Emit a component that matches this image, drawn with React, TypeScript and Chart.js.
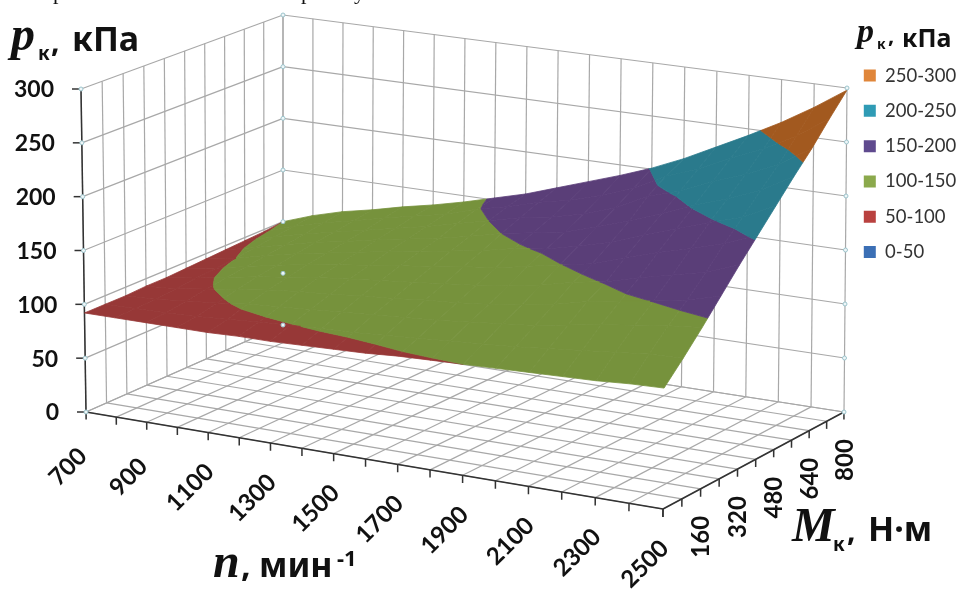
import React, { useEffect, useRef } from "react";
import { Chart, registerables } from "chart.js";

Chart.register(...registerables);

const rpmValues = [700, 800, 900, 1000, 1100, 1200, 1300, 1400, 1500, 1600, 1700, 1800, 1900, 2000, 2100, 2200, 2300, 2400, 2500];
const torqueValues = [0, 80, 160, 240, 320, 400, 480, 560, 640, 720, 800];
const pressureTicks = [0, 50, 100, 150, 200, 250, 300];
const rpmLabels = [700, 900, 1100, 1300, 1500, 1700, 1900, 2100, 2300, 2500];
const torqueLabels = [160, 320, 480, 640, 800];

// pressure (kPa) for each rpm, one value per torque in torqueValues
const pressureByRpm = [
  [92, 92, 92, 93, 93, 94, 95, 96, 97, 98, 100],
  [92, 92.5, 93, 95, 97, 98.5, 100, 102.5, 105, 107.5, 110],
  [92, 93, 96, 99, 102, 104.5, 107, 109.5, 112, 115, 118],
  [92, 94, 98.5, 103, 107, 110, 113, 116, 118, 121, 124],
  [92, 96, 102, 107, 111, 115, 118, 121, 124, 128, 131],
  [93, 98, 104, 110, 115, 119, 123, 127, 130, 134, 137],
  [93, 99.5, 106, 112, 118, 123, 128, 132, 136, 140, 144],
  [94, 101, 108, 115, 121, 127, 132, 137, 143, 149, 152],
  [95, 102, 110, 117, 124, 130, 137, 143, 150, 155.5, 160],
  [96, 104, 112, 120, 127, 135, 142, 150, 157, 164, 170],
  [98, 106, 114, 122, 130, 138, 148, 155, 162, 170, 180],
  [99, 108, 117, 125, 134, 144, 152, 160, 169, 179, 190],
  [100, 110, 120, 129, 139, 149.5, 159, 169, 179, 190, 201],
  [101, 112, 123, 134, 146, 155, 167, 179, 194, 205, 214],
  [102, 115, 128, 141, 151, 165, 178, 190, 203, 216, 229],
  [103, 118, 133, 146, 159, 174, 188, 202, 216, 230, 244],
  [104, 121, 137, 150.5, 166, 182, 198, 212, 227, 243, 260],
  [106, 124, 141, 156, 173, 191, 207, 224, 240, 259, 278],
  [107, 125, 144, 164, 184, 203, 222, 241, 259, 279, 298],
];

const bandLabels = ["250-300", "200-250", "150-200", "100-150", "50-100", "0-50"];
const bandLows = [250, 200, 150, 100, 50, 0];
const bandHighs = [300, 250, 200, 150, 100, 50];
const legendColors = ["#E0863A", "#2F9BB5", "#5F4A8E", "#8BA94C", "#B9413F", "#3B6FB5"];
const surfaceColors = ["#A2591F", "#2A7A8C", "#5A3E78", "#76923C", "#973837", "#2F5C97"];

// Camera: where the floor and the top of the plot box land on the canvas
const FLOOR = [[86, 412], [663, 509], [844, 412], [283, 325]];
const CEILING = [[81, 89], [666, 170], [847, 88], [283, 15]];

function homography(q: number[][]) {
  const [[x0, y0], [x1, y1], [x2, y2], [x3, y3]] = q;
  const dx1 = x1 - x2, dx2 = x3 - x2, dx3 = x0 - x1 + x2 - x3;
  const dy1 = y1 - y2, dy2 = y3 - y2, dy3 = y0 - y1 + y2 - y3;
  const den = dx1 * dy2 - dx2 * dy1;
  const g = (dx3 * dy2 - dx2 * dy3) / den;
  const h = (dx1 * dy3 - dx3 * dy1) / den;
  const a = x1 - x0 + g * x1, b = x3 - x0 + h * x3, d = y1 - y0 + g * y1, e = y3 - y0 + h * y3;
  return (u: number, v: number) => {
    const w = g * u + h * v + 1;
    return [(a * u + b * v + x0) / w, (d * u + e * v + y0) / w];
  };
}
const floorMap = homography(FLOOR);
const ceilMap = homography(CEILING);

function project(n: number, m: number, p: number) {
  const u = (n - 700) / 1800, v = m / 800, t = p / 300;
  const f = floorMap(u, v), c = ceilMap(u, v);
  return { x: f[0] + (c[0] - f[0]) * t, y: f[1] + (c[1] - f[1]) * t };
}

type V = { n: number; m: number; p: number };
function clip(poly: V[], level: number, keepAbove: boolean): V[] {
  const out: V[] = [];
  const inside = (q: V) => (keepAbove ? q.p >= level : q.p <= level);
  poly.forEach((a, i) => {
    const b = poly[(i + 1) % poly.length];
    if (inside(a)) out.push(a);
    if (inside(a) !== inside(b)) {
      const t = (level - a.p) / (b.p - a.p);
      out.push({ n: a.n + (b.n - a.n) * t, m: a.m + (b.m - a.m) * t, p: level });
    }
  });
  return out;
}

function line(points: { x: number; y: number }[], color: string, width: number) {
  return { label: "", data: points, showLine: true, borderColor: color, borderWidth: width, pointRadius: 0, fill: false };
}

function buildDatasets() {
  const top: any[] = [];
  // markers on the wall edges
  const markers: { x: number; y: number }[] = [];
  pressureTicks.forEach((p) => {
    markers.push(project(700, 0, p), project(700, 800, p), project(2500, 800, p));
  });
  top.push({ label: "", data: markers, showLine: false, pointRadius: 2, pointBackgroundColor: "#EEF6F8", pointBorderColor: "#9CC4CC", pointBorderWidth: 1 });

  // legend-only entries
  bandLabels.forEach((label, i) => {
    top.push({ label, data: [], backgroundColor: legendColors[i], borderColor: legendColors[i], borderWidth: 0, showLine: false, pointRadius: 0 });
  });

  // surface
  for (let i = 0; i < rpmValues.length - 1; i++) {
    for (let j = 0; j < torqueValues.length - 1; j++) {
      const cell: V[] = [
        { n: rpmValues[i], m: torqueValues[j], p: pressureByRpm[i][j] },
        { n: rpmValues[i + 1], m: torqueValues[j], p: pressureByRpm[i + 1][j] },
        { n: rpmValues[i + 1], m: torqueValues[j + 1], p: pressureByRpm[i + 1][j + 1] },
        { n: rpmValues[i], m: torqueValues[j + 1], p: pressureByRpm[i][j + 1] },
      ];
      bandLabels.forEach((_, b) => {
        let poly = clip(cell, bandLows[b], true);
        if (poly.length) poly = clip(poly, bandHighs[b], false);
        if (poly.length < 3) return;
        const pts = poly.map((q) => project(q.n, q.m, q.p));
        pts.push(pts[0]);
        top.push({
          label: "", data: pts, showLine: true, tension: 0, pointRadius: 0,
          borderColor: surfaceColors[b], backgroundColor: surfaceColors[b], borderWidth: 0.8, fill: "shape",
        });
      });
    }
  }

  // axes
  const axisColor = "#333333";
  const axes: any[] = [];
  axes.push(line([project(700, 0, 0), project(700, 0, 300)], axisColor, 1.5));
  axes.push(line([project(700, 0, 0), project(2500, 0, 0)], axisColor, 1.5));
  axes.push(line([project(2500, 0, 0), project(2500, 800, 0)], axisColor, 1.5));
  rpmValues.forEach((n) => axes.push(line([project(n, 0, 0), project(n, 0, -7)], axisColor, 1.5)));
  torqueValues.forEach((m) => axes.push(line([project(2500, m, 0), project(2500, m, -7)], axisColor, 1.5)));
  pressureTicks.forEach((p) => {
    const a = project(700, 0, p);
    axes.push(line([a, { x: a.x - 9, y: a.y }], axisColor, 1.5));
  });

  // grid
  const gridColor = "#A8A8A8";
  const grid: any[] = [];
  pressureTicks.forEach((p) => {
    grid.push(line([project(700, 0, p), project(700, 800, p)], gridColor, 1.2));
    grid.push(line([project(700, 800, p), project(2500, 800, p)], gridColor, 1.2));
  });
  torqueValues.forEach((m) => {
    grid.push(line([project(700, m, 0), project(700, m, 300)], gridColor, 1.2));
    grid.push(line([project(700, m, 0), project(2500, m, 0)], gridColor, 1.2));
  });
  rpmValues.forEach((n) => {
    grid.push(line([project(n, 800, 0), project(n, 800, 300)], gridColor, 1.2));
    grid.push(line([project(n, 0, 0), project(n, 800, 0)], gridColor, 1.2));
  });
  return [...top, ...axes, ...grid];
}

const SANS = '"Noto Sans", sans-serif';
const NUM = 'Lato, "Noto Sans", sans-serif';
const SERIF = '"Liberation Serif", serif';

function put(ctx: CanvasRenderingContext2D, text: string, x: number, y: number, font: string, color = "#111") {
  ctx.font = font;
  ctx.fillStyle = color;
  ctx.fillText(text, x, y);
}

const labelsPlugin = {
  id: "plotLabels",
  beforeDraw(chart: any) {
    chart.legend.left = 847;
    chart.legend.top = 49.5;
  },
  afterDraw(chart: any) {
    const ctx: CanvasRenderingContext2D = chart.ctx;
    const X = chart.scales.x, Y = chart.scales.y;
    ctx.save();
    ctx.textBaseline = "middle";
    ctx.textAlign = "right";
    pressureTicks.forEach((p) => {
      const a = project(700, 0, p);
      put(ctx, String(p), X.getPixelForValue(a.x - 27), Y.getPixelForValue(a.y + 1), `bold 23px ${NUM}`);
    });
    ctx.textAlign = "center";
    rpmLabels.forEach((n) => {
      const a = project(n, 0, 0);
      ctx.save();
      ctx.translate(X.getPixelForValue(a.x - 18), Y.getPixelForValue(a.y + 55));
      ctx.rotate(-Math.PI / 4);
      put(ctx, String(n), 0, 0, `bold 24px ${NUM}`);
      ctx.restore();
    });
    torqueLabels.forEach((m) => {
      const a = project(2500, m, 0);
      ctx.save();
      ctx.translate(X.getPixelForValue(a.x + 1), Y.getPixelForValue(a.y + 48));
      ctx.rotate(-Math.PI / 2);
      put(ctx, String(m), 0, 0, `bold 24px ${NUM}`);
      ctx.restore();
    });

    ctx.textAlign = "left";
    ctx.textBaseline = "alphabetic";
    // cropped line of page text above the figure
    put(ctx, "р", 53, -1, `22px ${SERIF}`);
    put(ctx, "р", 301, -1, `22px ${SERIF}`);
    put(ctx, "у", 354, -1, `22px ${SERIF}`);
    // p_k, kPa top-left
    put(ctx, "p", 11, 50, `italic bold 48px ${SERIF}`);
    put(ctx, "к", 38, 60, `bold 19px ${SANS}`);
    put(ctx, ",", 51, 52, `bold 30px ${SANS}`);
    put(ctx, "кПа", 72, 51, `bold 34px ${SANS}`);
    // legend title
    put(ctx, "p", 857, 42, `italic bold 34px ${SERIF}`);
    put(ctx, "к", 877, 49, `bold 14px ${SANS}`);
    put(ctx, ",", 888, 43, `bold 22px ${SANS}`);
    put(ctx, "кПа", 902, 47, `bold 25px ${SANS}`);
    // n, min-1
    put(ctx, "n", 213, 577, `italic bold 48px ${SERIF}`);
    put(ctx, ",", 241, 577, `bold 34px ${SANS}`);
    put(ctx, "мин", 259, 577, `bold 34px ${SANS}`);
    put(ctx, "-1", 337, 566, `bold 22px ${SANS}`);
    // M_k, N m
    put(ctx, "M", 792, 541, `italic bold 48px ${SERIF}`);
    put(ctx, "к", 833, 551, `bold 19px ${SANS}`);
    put(ctx, ",", 847, 541, `bold 30px ${SANS}`);
    put(ctx, "Н·м", 868, 541, `bold 34px ${SANS}`);
    ctx.restore();
  },
};

export default function App() {
  const ref = useRef<HTMLCanvasElement>(null);
  useEffect(() => {
    document.body.style.margin = "0";
    const chart = new Chart(ref.current as HTMLCanvasElement, {
      type: "scatter",
      data: { datasets: buildDatasets() },
      options: {
        responsive: false,
        animation: false,
        layout: { padding: 0, autoPadding: false },
        scales: {
          x: { type: "linear", display: false, min: 0, max: 961 },
          y: { type: "linear", display: false, min: 0, max: 589, reverse: true },
        },
        plugins: {
          tooltip: { enabled: false },
          title: { display: false },
          legend: {
            position: "chartArea",
            align: "start",
            labels: {
              filter: (item: any) => bandLabels.includes(item.text),
              boxWidth: 12,
              boxHeight: 12,
              padding: 16.8,
              color: "#333",
              font: { family: NUM, size: 18.5 },
            },
          },
        },
      } as any,
      plugins: [labelsPlugin],
    });
    return () => chart.destroy();
  }, []);
  return (
    <div style={{ position: "relative", width: 961, height: 589, background: "#fff", overflow: "hidden" }}>
      <canvas ref={ref} width={961} height={589} style={{ display: "block" }} />
    </div>
  );
}
